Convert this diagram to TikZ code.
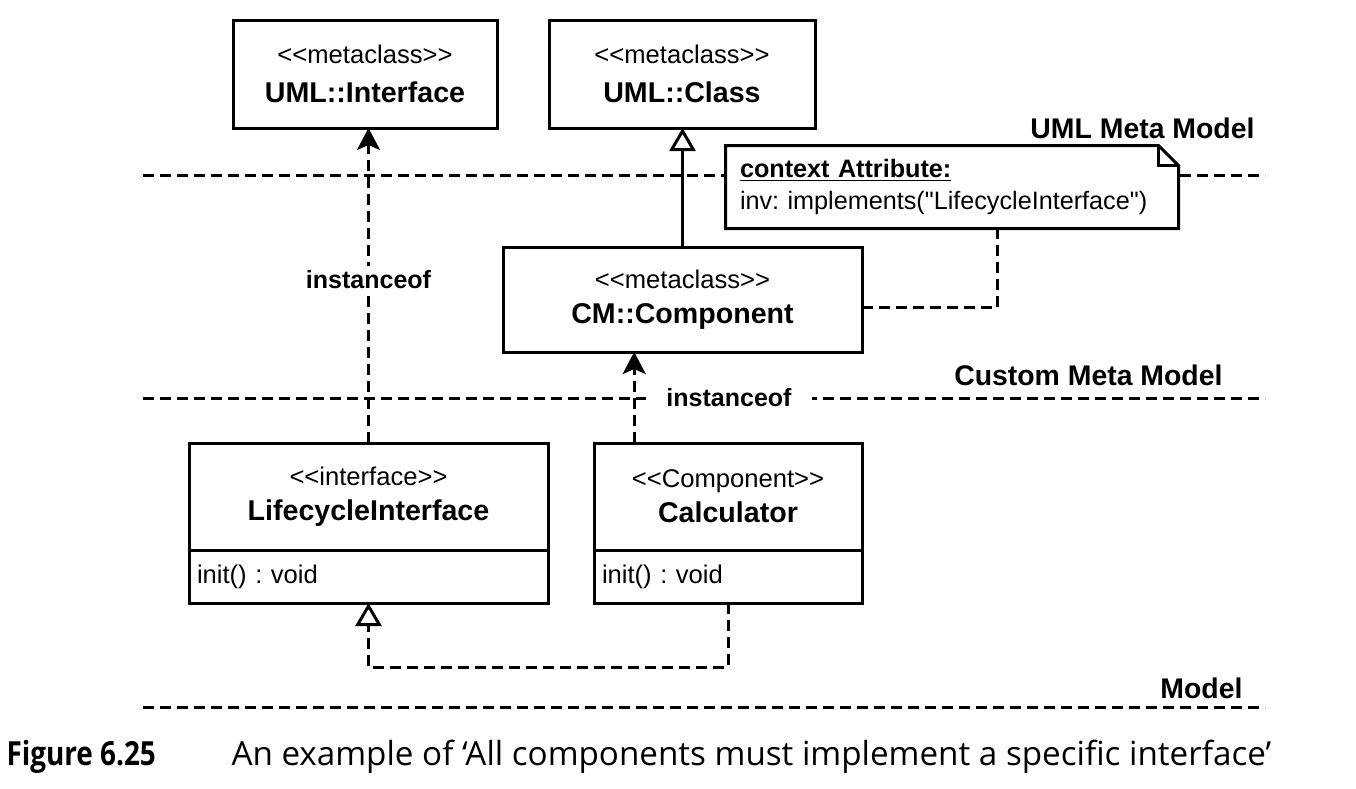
\documentclass[tikz,border=0pt]{standalone}
\usepackage{fontspec}
\setmainfont{Liberation Sans}[Ligatures=TeXOff]
\newfontfamily\capfont{Open Sans}
\newfontfamily\capboldfont{Open Sans Bold}[FakeStretch=0.84]
\usepackage{tikz}
\usetikzlibrary{positioning, arrows.meta, calc}
\frenchspacing

\newcommand{\stereo}[1]{\fontsize{12.8}{17.5}\selectfont<<#1>>}
\newcommand{\cname}[1]{\fontsize{14.3}{17.5}\selectfont\textbf{#1}}

\begin{document}
\begin{tikzpicture}[
    x=0.5pt, y=-0.5pt,
    line width=1.5pt,
    metabox/.style={rectangle, draw=black, fill=white, align=center, outer sep=0pt, font=\fontsize{12.8}{17.5}\selectfont},
    classbody/.style={rectangle, draw=black, fill=white, align=left, text width=#1, inner xsep=4pt, minimum height=26.5pt, outer sep=0pt, font=\fontsize{12.8}{15}\selectfont},
    layerline/.style={dash pattern=on 5.5pt off 3pt},
    layer/.style={font=\fontsize{14.2}{17}\selectfont\bfseries, anchor=base east, inner sep=0pt},
    edgelabel/.style={fill=white, font=\fontsize{12.5}{15}\selectfont\bfseries, inner sep=2pt},
    instof/.style={dash pattern=on 5.5pt off 3pt, -{Stealth[length=11pt, width=11.5pt, inset=2.5pt]}},
    generalize/.style={-{Triangle[open, length=11.5pt, width=13pt, fill=white]}}
]
    \useasboundingbox (0,0) rectangle (1356,788);

    % layer separators
    \draw[layerline] (143,175) -- (1265,175);
    \draw[layerline] (143,398) -- (1265,398);
    \draw[layerline] (143,707) -- (1265,707);

    \node[layer] (umllayer) at (1256,138) {UML Meta Model};
    \node[layer] (cmlayer) at (1224,385) {Custom Meta Model};
    \node[layer] (modellayer) at (1244,698) {Model};

    % metaclasses
    \node[metabox, minimum width=132pt, minimum height=54pt] (iface) at (365,74) {\stereo{metaclass}\\[2pt] \cname{UML::Interface}};
    \node[metabox, minimum width=133pt, minimum height=54pt] (cls) at (682,74) {\stereo{metaclass}\\[2pt] \cname{UML::Class}};
    \node[metabox, minimum width=179.5pt, minimum height=52.5pt] (comp) at (682.5,299.5) {\stereo{metaclass}\\ \cname{CM::Component}};

    % model classes
    \node[metabox, minimum width=179.5pt, minimum height=53.5pt] (lcihead) at (368.5,496.5) {\stereo{interface}\\ \cname{LifecycleInterface}};
    \node[classbody=171.5pt, below=0pt of lcihead] (lcibody) {init() : void};
    \node[metabox, minimum width=134pt, minimum height=53.5pt] (calchead) at (728,496.5) {\stereo{Component}\\ \cname{Calculator}};
    \node[classbody=126pt, below=0pt of calchead] (calcbody) {init() : void};

    % constraint note
    \node[fill=white, minimum width=225pt, minimum height=40pt, text width=212pt, align=left, inner xsep=6.5pt, font=\fontsize{12.6}{16}\selectfont] (note) at (952,187) {\underline{\textbf{context Attribute:}}\\ inv: implements("LifecycleInterface")};
    \draw (note.north west) -- ([xshift=-10pt]note.north east) -- ([yshift=-10pt]note.north east) -- (note.south east) -- (note.south west) -- cycle;
    \draw ([xshift=-10pt]note.north east) |- ([yshift=-10pt]note.north east);

    % connectors
    \draw[instof] (lcihead.north) -- (lcihead.north |- iface.south) node[edgelabel, pos=0.52] (inst1) {instanceof};
    \draw[generalize] (comp.north) -- (comp.north |- cls.south);
    \coordinate (calctop) at ($(calchead.north west)!0.15!(calchead.north east)$);
    \draw[instof] (calctop) -- (calctop |- comp.south);
    \node[edgelabel, inner xsep=10pt] (inst2) at (729,398) {instanceof};
    \coordinate (notefoot) at ($(note.south)+(45,0)$);
    \draw[layerline] ([yshift=-4pt]comp.east) -| (notefoot);
    \draw[layerline, -{Triangle[open, length=11.5pt, width=13pt, fill=white]}] (calcbody.south) -- ++(0,64) -| (lcibody.south);

    % caption
    \node[anchor=base west, inner sep=0pt, font=\capboldfont\fontsize{16.6}{18}\selectfont] (fignum) at (5,765) {Figure 6.25};
    \node[anchor=base west, inner sep=0pt, font=\capfont\fontsize{16.6}{18}\selectfont] (figtext) at (230,765) {An example of ‘All components must implement a specific interface’};
\end{tikzpicture}
\end{document}
